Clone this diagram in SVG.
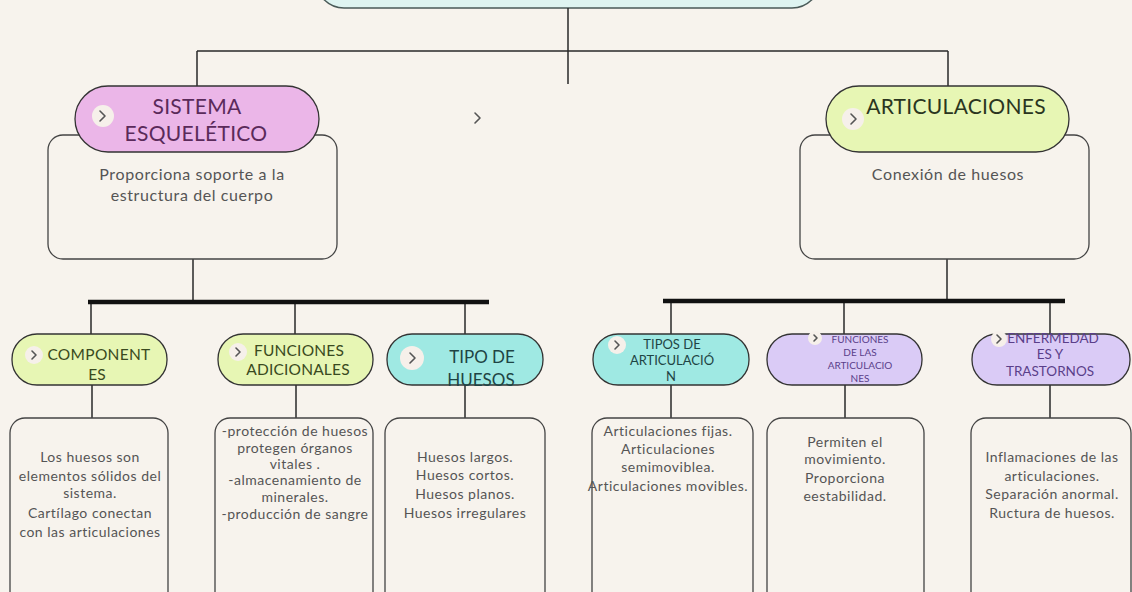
<svg xmlns="http://www.w3.org/2000/svg" width="1132" height="592" viewBox="0 0 1132 592">
<style>
.bg{fill:#f7f3ed}
.ln{stroke:#2a2a2a;stroke-width:1.5;fill:none}
.bus{stroke:#111;stroke-width:4.5;fill:none}
.box{fill:#f7f3ed;stroke:#444;stroke-width:1.3}
.pill{stroke:#333;stroke-width:1.3}
.chev{fill:#f6f0ea}
.chv{fill:none;stroke:#555;stroke-width:1.6;stroke-linecap:round;stroke-linejoin:round}
.t{font-family:Lato,"Open Sans",sans-serif;text-anchor:middle}
.d{font-size:14px;fill:#555;letter-spacing:0.5px}
.dt{font-size:16px;fill:#555;letter-spacing:0.6px}
.h1{font-size:21px;letter-spacing:0.3px}
</style>
<rect class="bg" x="0" y="0" width="1132" height="592"/>
<g id="top">
<rect x="316" y="-50" width="504" height="58" rx="28" fill="#def4f1" stroke="#4a5a58" stroke-width="1.5"/>
</g>
<g id="connectors">
<path class="ln" d="M568 8V84M197 51H948M197 51V87M948 51V87"/>
<path class="ln" d="M193 259V302M91 302V334M295 302V334M465 302V334"/>
<path class="bus" d="M88 302H489"/>
<path class="ln" d="M947 259V301M671 301V334M844 301V334M1050 301V334"/>
<path class="bus" d="M663 301H1065"/>
<path class="ln" d="M92 385V418M296 385V418M465 385V418M671 385V418M845 385V418M1050 385V418"/>
</g>
<path class="chv" d="M475 113L480 118L475 123"/>
<g id="sistema">
<rect class="box" x="48" y="135" width="289" height="124" rx="15"/>
<rect class="pill" x="75" y="86" width="244" height="66" rx="33" fill="#ebb6e8"/>
<circle class="chev" cx="103" cy="116" r="11"/>
<path class="chv" d="M100 111L105 116L100 121"/>
<text class="t h1" x="197" y="114" fill="#5a2a5a">SISTEMA</text>
<text class="t h1" x="196" y="141" fill="#5a2a5a">ESQUELÉTICO</text>
<text class="t dt" x="192" y="180">Proporciona soporte a la</text>
<text class="t dt" x="192" y="201">estructura del cuerpo</text>
</g>
<g id="articulaciones">
<rect class="box" x="800" y="135" width="289" height="124" rx="15"/>
<rect class="pill" x="826" y="86" width="243" height="66" rx="33" fill="#e7f6b4"/>
<circle class="chev" cx="853" cy="119" r="11"/>
<path class="chv" d="M851 114L856 119L851 124"/>
<text class="t h1" x="956" y="114" fill="#2a3520">ARTICULACIONES</text>
<text class="t dt" x="948" y="180">Conexión de huesos</text>
</g>
<g id="componentes">
<rect class="box" x="10" y="418" width="158" height="200" rx="15"/>
<rect class="pill" x="12" y="334" width="155" height="51" rx="25" fill="#e7f6b4"/>
<circle class="chev" cx="34" cy="355" r="9"/>
<path class="chv" d="M32 351L36 355L32 359"/>
<text class="t" x="99" y="360" font-size="15.5" letter-spacing="0.3" fill="#3a4a20">COMPONENT</text>
<text class="t" x="97" y="380" font-size="15.5" fill="#3a4a20">ES</text>
<text class="t d" x="90" y="462">Los huesos son</text>
<text class="t d" x="90" y="481">elementos sólidos del</text>
<text class="t d" x="90" y="498">sistema.</text>
<text class="t d" x="90" y="518">Cartílago conectan</text>
<text class="t d" x="90" y="537">con las articulaciones</text>
</g>
<g id="funciones-adicionales">
<rect class="box" x="215" y="418" width="158" height="200" rx="15"/>
<rect class="pill" x="218" y="334" width="155" height="51" rx="25" fill="#e7f6b4"/>
<circle class="chev" cx="238" cy="352" r="9"/>
<path class="chv" d="M236 348L240 352L236 356"/>
<text class="t" x="299" y="356" font-size="15.5" letter-spacing="0.2" fill="#3a4a20">FUNCIONES</text>
<text class="t" x="298" y="375" font-size="15.5" letter-spacing="0.2" fill="#3a4a20">ADICIONALES</text>
<text class="t d" x="295" y="436" font-size="13" letter-spacing="0.3">-protección de huesos</text>
<text class="t d" x="295" y="453" font-size="13" letter-spacing="0.3">protegen órganos</text>
<text class="t d" x="295" y="469" font-size="13" letter-spacing="0.3">vitales .</text>
<text class="t d" x="295" y="485" font-size="13" letter-spacing="0.3">-almacenamiento de</text>
<text class="t d" x="295" y="502" font-size="13" letter-spacing="0.3">minerales.</text>
<text class="t d" x="295" y="519" font-size="13" letter-spacing="0.3">-producción de sangre</text>
</g>
<g id="tipo-huesos">
<rect class="box" x="385" y="418" width="160" height="200" rx="15"/>
<rect class="pill" x="387" y="334" width="156" height="51" rx="25" fill="#9fe9e3"/>
<circle class="chev" cx="412" cy="358" r="12"/>
<path class="chv" d="M410 353L415 358L410 363"/>
<text class="t" x="482" y="363" font-size="17" fill="#1e4444">TIPO DE</text>
<text class="t" x="481" y="386" font-size="17" fill="#1e4444">HUESOS</text>
<text class="t d" x="465" y="462">Huesos largos.</text>
<text class="t d" x="465" y="480">Huesos cortos.</text>
<text class="t d" x="465" y="499">Huesos planos.</text>
<text class="t d" x="465" y="518">Huesos irregulares</text>
</g>
<g id="tipos-articulacion">
<rect class="box" x="592" y="418" width="161" height="200" rx="15"/>
<rect class="pill" x="593" y="334" width="156" height="51" rx="25" fill="#9fe9e3"/>
<circle class="chev" cx="617" cy="345" r="9"/>
<path class="chv" d="M615 341L619 345L615 349"/>
<text class="t" x="672" y="349" font-size="13" fill="#1e4444">TIPOS DE</text>
<text class="t" x="672" y="365" font-size="13" fill="#1e4444">ARTICULACIÓ</text>
<text class="t" x="671" y="381" font-size="13" fill="#1e4444">N</text>
<text class="t d" x="668" y="436">Articulaciones fijas.</text>
<text class="t d" x="668" y="454">Articulaciones</text>
<text class="t d" x="668" y="472">semimoviblea.</text>
<text class="t d" x="668" y="491">Articulaciones movibles.</text>
</g>
<g id="funciones-articulaciones">
<rect class="box" x="767" y="418" width="157" height="200" rx="15"/>
<rect class="pill" x="767" y="334" width="155" height="51" rx="25" fill="#dacbf6"/>
<circle class="chev" cx="815" cy="338" r="7"/>
<path class="chv" d="M814 335L817 338L814 341"/>
<text class="t" x="860" y="343" font-size="10" fill="#5a3f8a">FUNCIONES</text>
<text class="t" x="860" y="356" font-size="10" fill="#5a3f8a">DE LAS</text>
<text class="t" x="860" y="369" font-size="10" fill="#5a3f8a">ARTICULACIO</text>
<text class="t" x="860" y="382" font-size="10" fill="#5a3f8a">NES</text>
<text class="t d" x="845" y="447">Permiten el</text>
<text class="t d" x="845" y="464">movimiento.</text>
<text class="t d" x="845" y="483">Proporciona</text>
<text class="t d" x="845" y="501">eestabilidad.</text>
</g>
<g id="enfermedades">
<rect class="box" x="971" y="418" width="160" height="200" rx="15"/>
<rect class="pill" x="972" y="334" width="158" height="51" rx="25" fill="#dacbf6"/>
<circle class="chev" cx="999" cy="339" r="8"/>
<path class="chv" d="M997 335L1001 339L997 343"/>
<text class="t" x="1053" y="343" font-size="13.5" fill="#5a3f8a">ENFERMEDAD</text>
<text class="t" x="1050" y="359" font-size="13.5" fill="#5a3f8a">ES Y</text>
<text class="t" x="1050" y="376" font-size="13.5" fill="#5a3f8a">TRASTORNOS</text>
<text class="t d" x="1052" y="462">Inflamaciones de las</text>
<text class="t d" x="1052" y="481">articulaciones.</text>
<text class="t d" x="1052" y="499">Separación anormal.</text>
<text class="t d" x="1052" y="518">Ructura de huesos.</text>
</g>
</svg>
